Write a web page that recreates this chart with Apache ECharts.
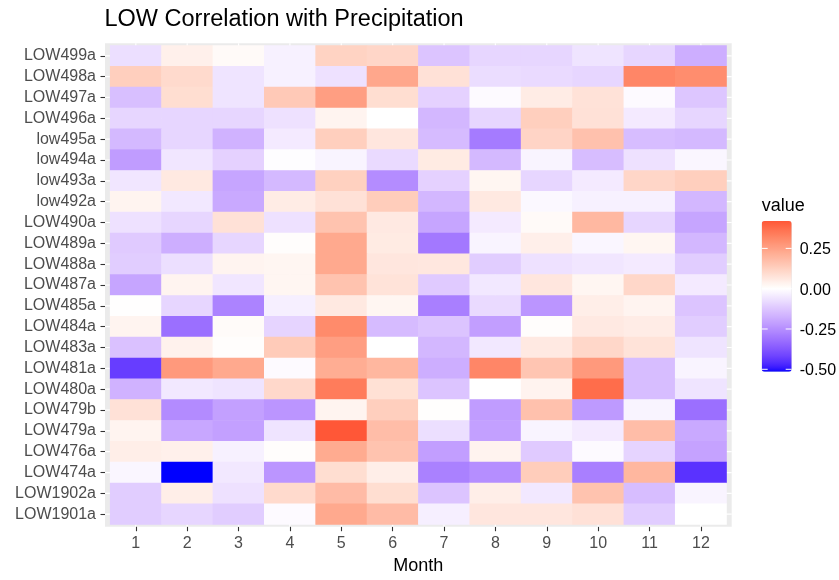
<!DOCTYPE html>
<html>
<head>
<meta charset="utf-8">
<script src="https://cdn.jsdelivr.net/npm/echarts@6/dist/echarts.min.js"></script>
<style>
  html, body { margin: 0; padding: 0; background: #ffffff; }
  #chart { width: 839px; height: 580px; }
</style>
</head>
<body>
<div id="chart"></div>
<script>
// ---- data -------------------------------------------------------------
const months = ['1', '2', '3', '4', '5', '6', '7', '8', '9', '10', '11', '12'];

const stations = [
  'LOW499a', 'LOW498a', 'LOW497a', 'LOW496a', 'low495a', 'low494a', 'low493a',
  'low492a', 'LOW490a', 'LOW489a', 'LOW488a', 'LOW487a', 'LOW485a', 'LOW484a',
  'LOW483a', 'LOW481a', 'LOW480a', 'LOW479b', 'LOW479a', 'LOW476a', 'LOW474a',
  'LOW1902a', 'LOW1901a'
];

// correlation with precipitation, one row per station, months 1..12
const corr = [
  [-0.07,  0.04,  0.013, -0.03,  0.12,  0.11, -0.13, -0.09, -0.09, -0.06, -0.09, -0.18],   // LOW499a
  [ 0.13,  0.10, -0.06,  -0.03, -0.065, 0.235, 0.08, -0.075, -0.08, -0.09, 0.315, 0.30],  // LOW498a
  [-0.14,  0.09, -0.06,   0.145, 0.257, 0.09, -0.10, -0.01,  0.052, 0.077, -0.01, -0.125], // LOW497a
  [-0.09, -0.09, -0.09,  -0.065, 0.03,  0.0,  -0.16, -0.09,  0.13,  0.08, -0.045, -0.09],  // LOW496a
  [-0.155, -0.09, -0.17, -0.045, 0.13,  0.066, -0.15, -0.295, 0.115, 0.165, -0.145, -0.155], // low495a
  [-0.22, -0.055, -0.10, -0.005, -0.025, -0.08, 0.055, -0.155, -0.025, -0.145, -0.065, -0.02], // low494a
  [-0.055, 0.06, -0.20,  -0.155, 0.125, -0.255, -0.10, 0.026, -0.09, -0.045, 0.11, 0.13],  // low493a
  [ 0.03, -0.05, -0.19,   0.052, 0.08,  0.135, -0.16,  0.06, -0.015, -0.03, -0.03, -0.16],  // low492a
  [-0.065, -0.09, 0.08,  -0.065, 0.16,  0.058, -0.20, -0.045, 0.013, 0.19, -0.09, -0.20],  // LOW490a
  [-0.115, -0.18, -0.09,  0.005, 0.23,  0.055, -0.30, -0.025, 0.043, -0.02, 0.026, -0.16], // LOW489a
  [-0.11, -0.07,  0.03,   0.025, 0.23,  0.066, 0.063, -0.11, -0.065, -0.055, -0.045, -0.11], // LOW488a
  [-0.20,  0.03, -0.055,  0.026, 0.16,  0.075, -0.115, -0.05, 0.066, 0.026, 0.108, -0.045], // LOW487a
  [ 0.002, -0.09, -0.275, -0.035, 0.06, 0.026, -0.285, -0.08, -0.235, 0.046, 0.03, -0.13], // LOW485a
  [ 0.03, -0.32,  0.01,  -0.095, 0.305, -0.15, -0.13, -0.215, 0.005, 0.058, 0.05, -0.11],  // LOW484a
  [-0.135, 0.036, 0.005,  0.14,  0.257, 0.0,  -0.16, -0.05,  0.058, 0.108, 0.075, -0.06],  // LOW483a
  [-0.43,  0.27,  0.23,  -0.01,  0.22,  0.195, -0.18, 0.315, 0.156, 0.27, -0.145, -0.025], // LOW481a
  [-0.17, -0.05, -0.06,   0.105, 0.34,  0.083, -0.13, 0.0,   0.033, 0.375, -0.145, -0.06], // LOW480a
  [ 0.08, -0.257, -0.21, -0.235, 0.03,  0.13,  0.003, -0.22, 0.165, -0.225, -0.025, -0.32], // LOW479b
  [ 0.03, -0.195, -0.21, -0.06,  0.42,  0.175, -0.07, -0.21, -0.025, -0.045, 0.177, -0.19], // LOW479a
  [ 0.046, 0.04, -0.03,   0.005, 0.225, 0.16, -0.215, 0.033, -0.115, -0.01, -0.095, -0.205], // LOW476a
  [-0.02, -0.515, -0.05, -0.235, 0.09,  0.046, -0.28, -0.25, 0.135, -0.285, 0.195, -0.45],  // LOW474a
  [-0.11,  0.046, -0.065, 0.10,  0.18,  0.09, -0.13,  0.046, -0.05, 0.16, -0.145, -0.025],  // LOW1902a
  [-0.11, -0.09, -0.11,  -0.01,  0.23,  0.18, -0.035, 0.066, 0.066, 0.08, -0.11, 0.0]      // LOW1901a
];

const legendBreaks = [0.25, 0, -0.25, -0.5];

// ---- diverging blue / white / red scale, interpolated in CIE Lab ----------
const WX = 0.95047, WY = 1.0, WZ = 1.08883;
function toLin(c) { c /= 255; return c <= 0.04045 ? c / 12.92 : Math.pow((c + 0.055) / 1.055, 2.4); }
function toSrgb(c) {
  c = c <= 0.0031308 ? 12.92 * c : 1.055 * Math.pow(c, 1 / 2.4) - 0.055;
  return Math.round(Math.max(0, Math.min(1, c)) * 255);
}
function rgbToLab(rgb) {
  const r = toLin(rgb[0]), g = toLin(rgb[1]), b = toLin(rgb[2]);
  const X = 0.4124564 * r + 0.3575761 * g + 0.1804375 * b;
  const Y = 0.2126729 * r + 0.7151522 * g + 0.0721750 * b;
  const Z = 0.0193339 * r + 0.1191920 * g + 0.9503041 * b;
  const f = t => t > 0.008856 ? Math.cbrt(t) : 7.787 * t + 16 / 116;
  const fx = f(X / WX), fy = f(Y / WY), fz = f(Z / WZ);
  return [116 * fy - 16, 500 * (fx - fy), 200 * (fy - fz)];
}
function labToHex(lab) {
  const fy = (lab[0] + 16) / 116, fx = fy + lab[1] / 500, fz = fy - lab[2] / 200;
  const inv = t => { const t3 = t * t * t; return t3 > 0.008856 ? t3 : (t - 16 / 116) / 7.787; };
  const X = WX * inv(fx), Y = WY * inv(fy), Z = WZ * inv(fz);
  const r = 3.2404542 * X - 1.5371385 * Y - 0.4985314 * Z;
  const g = -0.9692660 * X + 1.8760108 * Y + 0.0415560 * Z;
  const b = 0.0556434 * X - 0.2040259 * Y + 1.0572252 * Z;
  return '#' + [r, g, b].map(c => toSrgb(c).toString(16).padStart(2, '0')).join('');
}
const LAB_LOW = rgbToLab([0, 0, 255]);
const LAB_MID = rgbToLab([255, 255, 255]);
const LAB_HIGH = rgbToLab([255, 0, 0]);

const allValues = corr.flat();
const limMin = Math.min(...allValues);
const limMax = Math.max(...allValues);
const halfSpan = Math.max(Math.abs(limMin), Math.abs(limMax));

function scaleColor(v) {
  const t = Math.max(-1, Math.min(1, v / halfSpan));
  const end = t < 0 ? LAB_LOW : LAB_HIGH;
  const k = Math.abs(t);
  return labToHex([0, 1, 2].map(i => LAB_MID[i] + (end[i] - LAB_MID[i]) * k));
}
const rampColors = [];
for (let i = 0; i <= 120; i++) rampColors.push(scaleColor(limMin + (limMax - limMin) * i / 120));

// ---- layout -----------------------------------------------------------
const FONT = '"Liberation Sans", Arial, Helvetica, sans-serif';
const W = 839, H = 580;
const panel = { left: 105, top: 43.3, right: 731.7, bottom: 526.7 };
const padX = (panel.right - panel.left) / (months.length + 0.2) * 0.1;
const padY = (panel.bottom - panel.top) / (stations.length + 0.2) * 0.1;
const bar = { left: 761.7, top: 221, width: 30, height: 150.7 };

const heatData = [];
corr.forEach((row, r) => row.forEach((v, c) => heatData.push([c, r, v])));

const chart = echarts.init(document.getElementById('chart'), null, { renderer: 'canvas' });

chart.setOption({
  backgroundColor: '#ffffff',
  animation: false,
  title: {
    text: 'LOW Correlation with Precipitation',
    left: panel.left - 0.5, top: 8, padding: 0,
    textStyle: { fontFamily: FONT, fontSize: 23.5, fontWeight: 'normal', color: '#000000' }
  },
  grid: {
    left: panel.left + padX, right: W - panel.right + padX,
    top: panel.top + padY, bottom: H - panel.bottom + padY,
    containLabel: false
  },
  xAxis: {
    type: 'category', data: months, offset: padY,
    axisLine: { show: false },
    axisTick: { show: true, alignWithLabel: true, length: 4.5, lineStyle: { color: '#333333', width: 1.1 } },
    axisLabel: { color: '#4D4D4D', fontSize: 16, fontFamily: FONT, margin: 8.5 },
    splitLine: { show: false },
    name: 'Month', nameLocation: 'middle', nameGap: 30,
    nameTextStyle: { fontFamily: FONT, fontSize: 18, color: '#000000' }
  },
  yAxis: {
    type: 'category', data: stations, inverse: true, offset: padX,
    axisLine: { show: false },
    axisTick: { show: true, alignWithLabel: true, length: 4.5, lineStyle: { color: '#333333', width: 1.1 } },
    axisLabel: { color: '#4D4D4D', fontSize: 16, fontFamily: FONT, margin: 9 },
    splitLine: { show: false }
  },
  visualMap: {
    type: 'continuous', show: true, calculable: false, hoverLink: false,
    min: limMin, max: limMax, dimension: 2,
    orient: 'vertical', left: bar.left, top: bar.top, padding: 0,
    itemWidth: bar.width, itemHeight: bar.height,
    text: null, showLabel: false,
    inRange: { color: rampColors }
  },
  series: [{
    type: 'heatmap', data: heatData, z: 2,
    itemStyle: { borderWidth: 0 },
    emphasis: { disabled: true }
  }]
});

// panel background, white guide lines at each category, legend ticks & labels
const graphics = [{
  type: 'rect', z: 0, silent: true,
  shape: { x: panel.left, y: panel.top, width: panel.right - panel.left, height: panel.bottom - panel.top },
  style: { fill: '#EBEBEB' }
}];
months.forEach((m, i) => {
  const x = chart.convertToPixel({ xAxisIndex: 0 }, i);
  graphics.push({ type: 'line', z: 1, silent: true,
    shape: { x1: x, y1: panel.top, x2: x, y2: panel.bottom },
    style: { stroke: '#FFFFFF', lineWidth: 1.2 } });
});
stations.forEach((s, i) => {
  const y = chart.convertToPixel({ yAxisIndex: 0 }, i);
  graphics.push({ type: 'line', z: 1, silent: true,
    shape: { x1: panel.left, y1: y, x2: panel.right, y2: y },
    style: { stroke: '#FFFFFF', lineWidth: 1.2 } });
});
const legendY = v => bar.top + (limMax - v) / (limMax - limMin) * bar.height;
legendBreaks.forEach(v => {
  const y = legendY(v);
  graphics.push({ type: 'line', z: 10, silent: true,
    shape: { x1: bar.left, y1: y, x2: bar.left + 6, y2: y }, style: { stroke: '#FFFFFF', lineWidth: 1 } });
  graphics.push({ type: 'line', z: 10, silent: true,
    shape: { x1: bar.left + bar.width - 6, y1: y, x2: bar.left + bar.width, y2: y }, style: { stroke: '#FFFFFF', lineWidth: 1 } });
  graphics.push({ type: 'text', z: 10, silent: true, x: bar.left + bar.width + 8, y: y + 1.5,
    style: { text: v.toFixed(2), fontFamily: FONT, fontSize: 16, fill: '#000000', textAlign: 'left', textVerticalAlign: 'middle' } });
});
graphics.push({ type: 'text', z: 10, silent: true, x: bar.left, y: bar.top - 6,
  style: { text: 'value', fontFamily: FONT, fontSize: 18, fill: '#000000', textAlign: 'left', textVerticalAlign: 'bottom' } });

chart.setOption({ graphic: graphics });
</script>
</body>
</html>
